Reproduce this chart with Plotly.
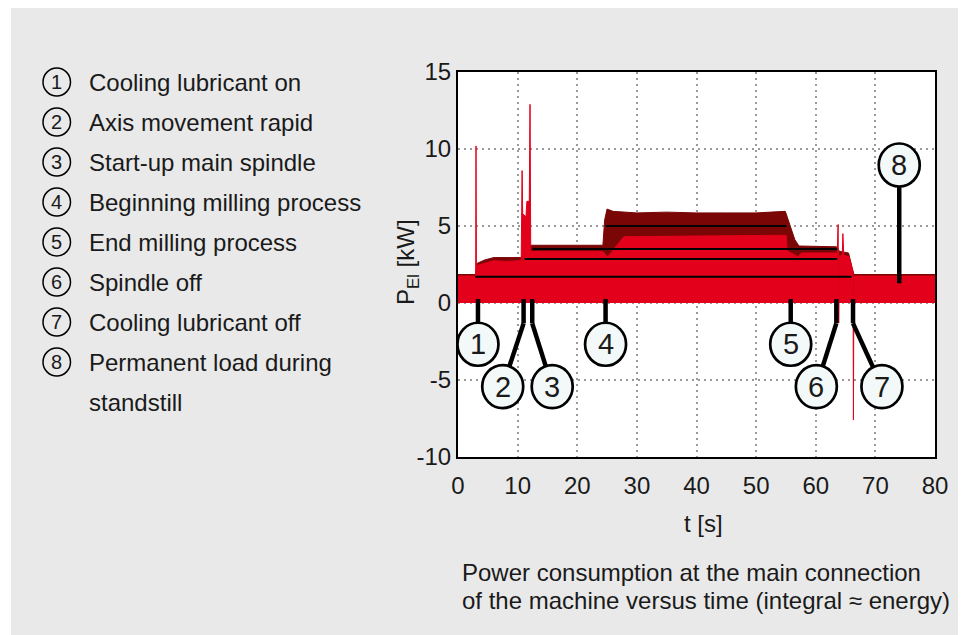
import plotly.graph_objects as go

# ---------------- data ----------------
# main (bright red) power trace
BRIGHT_T = [0, 2.97, 3.02, 3.08, 3.3, 4.5, 6.0, 8.0, 10.6, 10.75, 10.85, 11.4, 11.55, 11.95, 12.08, 12.2,
            24.3, 25.1, 26.3, 27.8, 40.0, 55.05, 55.2, 56.0, 57.0, 57.6, 63.6, 63.75, 63.85, 64.0,
            64.45, 64.55, 64.7, 65.6, 66.0, 66.25, 66.32, 66.4, 80]
BRIGHT_P = [1.75, 1.75, 10.2, 2.4, 2.45, 2.6, 2.75, 2.7, 2.75, 8.6, 5.8, 5.6, 6.6, 6.6, 12.9, 3.35,
            3.35, 3.0, 3.55, 4.3, 4.35, 4.4, 3.4, 3.2, 3.0, 3.25, 3.25, 5.1, -1.3, 3.1,
            3.1, 4.5, 3.1, 3.0, 2.3, 2.0, -7.6, 1.75, 1.75]

# upper noise envelope (dark red)
DARK_T = [0, 2.97, 3.08, 4.5, 6.0, 10.6, 12.2, 24.3, 24.6, 25.0, 26.0, 30.0, 35.0, 40.0, 45.0, 50.0,
          54.9, 55.7, 56.5, 57.2, 63.5, 64.0, 65.5, 66.1, 66.4, 80]
DARK_P = [1.85, 1.85, 2.55, 2.8, 2.95, 2.95, 3.75, 3.75, 5.4, 6.1, 5.95, 5.85, 5.9, 5.85, 5.85, 5.85,
          5.95, 5.0, 4.1, 3.7, 3.65, 3.35, 3.25, 2.3, 1.85, 1.85]

# mean power levels (black lines)
LEVEL_P = [1.7, 2.85, 3.5, 5.0]
LEVEL_START = [2.9, 11.15, 12.45, 24.75]
LEVEL_END = [66.0, 63.6, 63.6, 55.1]

# events (callouts)
EVENT_NUMBERS = ["1", "2", "3", "4", "5", "6", "7", "8"]
EVENT_T = [3.35, 11.0, 12.45, 24.75, 55.8, 63.45, 66.25, 74.0]
LEGEND_LABELS = ["Cooling lubricant on", "Axis movement rapid", "Start-up main spindle",
                 "Beginning milling process", "End milling process", "Spindle off",
                 "Cooling lubricant off", "Permanent load during"]
LEGEND_CONT = "standstill"

X_TICKS = [0, 10, 20, 30, 40, 50, 60, 70, 80]
X_TICK_LABELS = ["0", "10", "20", "30", "40", "50", "60", "70", "80"]
Y_TICKS = [-10, -5, 0, 5, 10, 15]
Y_TICK_LABELS = ["-10", "-5", "0", "5", "10", "15"]

X_TITLE = "t [s]"
Y_TITLE = "P<sub>El</sub> [kW]"
CAPTION = ["Power consumption at the main connection",
           "of the machine versus time (integral \u2248 energy)"]

# ---------------- style / layout ----------------
OFF = 8                      # page body margin of the browser
W, H = 966 - OFF, 635 - OFF
ML, MR, MT, MB = 458 - OFF, 31, 72 - OFF, 178
PW, PH = W - ML - MR, H - MT - MB
FONT = "Liberation Sans, Arial, sans-serif"
TXT = "#1a1a1a"
BRIGHT = "#e2001a"
DARK = "#7a0606"
PANEL = "#e9e9e9"


def px2x(px):
    """window pixel x -> paper x"""
    return (px - OFF - ML) / PW


def py2y(py):
    """window pixel y -> paper y"""
    return (H - MB - (py - OFF)) / PH


fig = go.Figure()

fig.add_trace(go.Scatter(x=DARK_T, y=DARK_P, mode="lines", fill="tozeroy",
                         line=dict(color=DARK, width=1), fillcolor=DARK,
                         hoverinfo="skip", showlegend=False))
fig.add_trace(go.Scatter(x=BRIGHT_T, y=BRIGHT_P, mode="lines", fill="tozeroy",
                         line=dict(color=BRIGHT, width=1), fillcolor=BRIGHT,
                         showlegend=False))

lx, ly = [], []
for v, s, e in zip(LEVEL_P, LEVEL_START, LEVEL_END):
    lx += [s, e, None]
    ly += [v, v, None]
fig.add_trace(go.Scatter(x=lx, y=ly, mode="lines", line=dict(color="black", width=2),
                         hoverinfo="skip", showlegend=False))

shapes = []
annotations = []

# white page edge left of the grey panel
shapes.append(dict(type="rect", xref="paper", yref="paper", layer="below",
                   x0=px2x(OFF), x1=px2x(11), y0=py2y(H + OFF), y1=py2y(OFF),
                   fillcolor="white", line=dict(width=0)))

# callout geometry: (stub start value, knee value, circle t, circle value)
CIRC_W, CIRC_H = 20.5, 21.5
callouts = [
    (0.25, None, 3.35, -2.68),
    (0.25, -1.32, 7.5, -5.43),
    (0.25, -1.32, 15.8, -5.43),
    (0.25, None, 24.75, -2.68),
    (0.25, None, 55.8, -2.68),
    (0.25, -1.32, 60.1, -5.43),
    (0.25, -1.32, 71.1, -5.43),
    (1.28, None, 74.0, 8.96),
]
for num, t, (v0, knee, ct, cv) in zip(EVENT_NUMBERS, EVENT_T, callouts):
    ln = dict(color="black", width=4.5)
    if knee is None:
        shapes.append(dict(type="line", xref="x", yref="y", x0=t, x1=ct, y0=v0, y1=cv, line=ln))
    else:
        shapes.append(dict(type="line", xref="x", yref="y", x0=t, x1=t, y0=v0, y1=knee, line=ln))
        shapes.append(dict(type="line", xref="x", yref="y", x0=t, x1=ct, y0=knee, y1=cv, line=ln))
for num, (v0, knee, ct, cv) in zip(EVENT_NUMBERS, callouts):
    shapes.append(dict(type="circle", xref="x", yref="y", xsizemode="pixel", ysizemode="pixel",
                       xanchor=ct, yanchor=cv, x0=-CIRC_W, x1=CIRC_W, y0=-CIRC_H, y1=CIRC_H,
                       fillcolor="#f3f8f8", line=dict(color="black", width=2.7)))
    annotations.append(dict(x=ct, y=cv, xref="x", yref="y", text=num, showarrow=False,
                            font=dict(family=FONT, size=29, color=TXT),
                            xanchor="center", yanchor="middle"))

# legend on the left
for i, (num, lab) in enumerate(zip(EVENT_NUMBERS, LEGEND_LABELS)):
    cy = 82 + 40 * i
    shapes.append(dict(type="circle", xref="paper", yref="paper",
                       x0=px2x(43), x1=px2x(70.5), y0=py2y(cy + 14), y1=py2y(cy - 14),
                       line=dict(color="black", width=1.5)))
    annotations.append(dict(x=px2x(56.8), y=py2y(cy), xref="paper", yref="paper", text=num,
                            showarrow=False, xanchor="center", yanchor="middle",
                            font=dict(family=FONT, size=20, color=TXT)))
    annotations.append(dict(x=px2x(86.5), y=py2y(cy), xref="paper", yref="paper", text=lab,
                            showarrow=False, xanchor="left", yanchor="middle",
                            font=dict(family=FONT, size=24, color=TXT)))
annotations.append(dict(x=px2x(86.5), y=py2y(402), xref="paper", yref="paper", text=LEGEND_CONT,
                        showarrow=False, xanchor="left", yanchor="middle",
                        font=dict(family=FONT, size=24, color=TXT)))

# axis titles and caption
annotations.append(dict(x=px2x(703), y=py2y(523), xref="paper", yref="paper", text=X_TITLE,
                        showarrow=False, xanchor="center", yanchor="middle",
                        font=dict(family=FONT, size=24, color=TXT)))
annotations.append(dict(x=px2x(407), y=py2y(262), xref="paper", yref="paper", text=Y_TITLE,
                        showarrow=False, xanchor="center", yanchor="middle", textangle=-90,
                        font=dict(family=FONT, size=24, color=TXT)))
for k, line in enumerate(CAPTION):
    annotations.append(dict(x=px2x(460), y=py2y(572 + 28 * k), xref="paper", yref="paper",
                            text=line, showarrow=False, xanchor="left", yanchor="middle",
                            font=dict(family=FONT, size=24, color=TXT)))

axis_common = dict(showgrid=True, gridcolor="#9a9a9a", gridwidth=1.5, griddash="2px,4px",
                   showline=True, linecolor="black", linewidth=2, mirror=True,
                   zeroline=False, ticks="", tickfont=dict(family=FONT, size=24, color=TXT),
                   fixedrange=True)

fig.update_layout(
    width=W, height=H,
    margin=dict(l=ML, r=MR, t=MT, b=MB, pad=0),
    paper_bgcolor=PANEL, plot_bgcolor="white",
    xaxis=dict(range=[0, 80], tickvals=X_TICKS, ticktext=X_TICK_LABELS,
               ticklabelstandoff=6, **axis_common),
    yaxis=dict(range=[-10, 15], tickvals=Y_TICKS, ticktext=Y_TICK_LABELS,
               ticklabelstandoff=0, **axis_common),
    shapes=shapes, annotations=annotations,
    showlegend=False,
)

fig.write_html("out.html")
